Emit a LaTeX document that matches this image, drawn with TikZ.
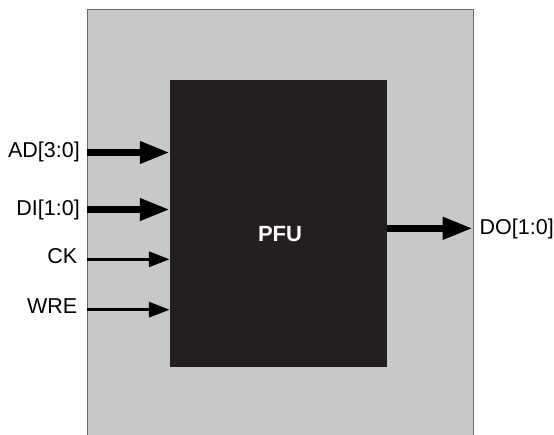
\documentclass[tikz,border=0pt]{standalone}
\usepackage{fontspec}
\setmainfont{Liberation Sans}
\usetikzlibrary{arrows.meta,positioning}
\definecolor{boardgray}{RGB}{199,200,202}
\definecolor{boardedge}{RGB}{105,105,105}
\definecolor{pfublack}{RGB}{35,31,32}
\tikzset{
  sig/.style={font=\fontsize{21.5}{25}\selectfont, inner sep=0pt},
  bus/.style={line width=7pt, -{Triangle[length=30pt,width=21pt]}},
  wire/.style={line width=3.5pt, -{Triangle[length=21pt,width=15pt]}},
}
\begin{document}
\begin{tikzpicture}[x=1pt,y=-1pt]
    \useasboundingbox (0,0) rectangle (554,434);
    \clip (0,0) rectangle (554,434);
    % gray board, runs off the bottom
    \node[draw=boardedge, line width=1pt, fill=boardgray, inner sep=0pt,
          minimum width=386pt, minimum height=440pt, anchor=north west] (board) at (86.7,9) {};
    \node[fill=pfublack, inner sep=0pt, minimum width=216.7pt, minimum height=286.7pt] (pfu) at (278.3,223.3) {};
    \node[anchor=base, inner sep=0pt, text=white, font=\bfseries\fontsize{22}{26}\selectfont] (pfulbl) at (280,241.3) {PFU};
    % inputs
    \coordinate (adin) at (86.7,152.5);
    \coordinate (diin) at (86.7,209.5);
    \coordinate (ckin) at (86.7,259.3);
    \coordinate (wrein) at (86.7,309.7);
    \coordinate (doout) at (472.7,228.3);
    \node[sig, anchor=base east] (adlbl) at (80,157.8) {AD[3:0]};
    \node[sig, anchor=base east] (dilbl) at (80,215.8) {DI[1:0]};
    \node[sig, anchor=base east] (cklbl) at (77.5,263.3) {CK};
    \node[sig, anchor=base east] (wrelbl) at (77.5,313.3) {WRE};
    \node[sig, anchor=base west] (dolbl) at (479.5,234.7) {DO[1:0]};
    \draw[bus] (adin) -- (pfu.west |- adin);
    \draw[bus] (diin) -- (pfu.west |- diin);
    \draw[wire] (ckin) -- (pfu.west |- ckin);
    \draw[wire] (wrein) -- (pfu.west |- wrein);
    % output
    \draw[bus] (pfu.east |- doout) -- (doout);
\end{tikzpicture}
\end{document}
